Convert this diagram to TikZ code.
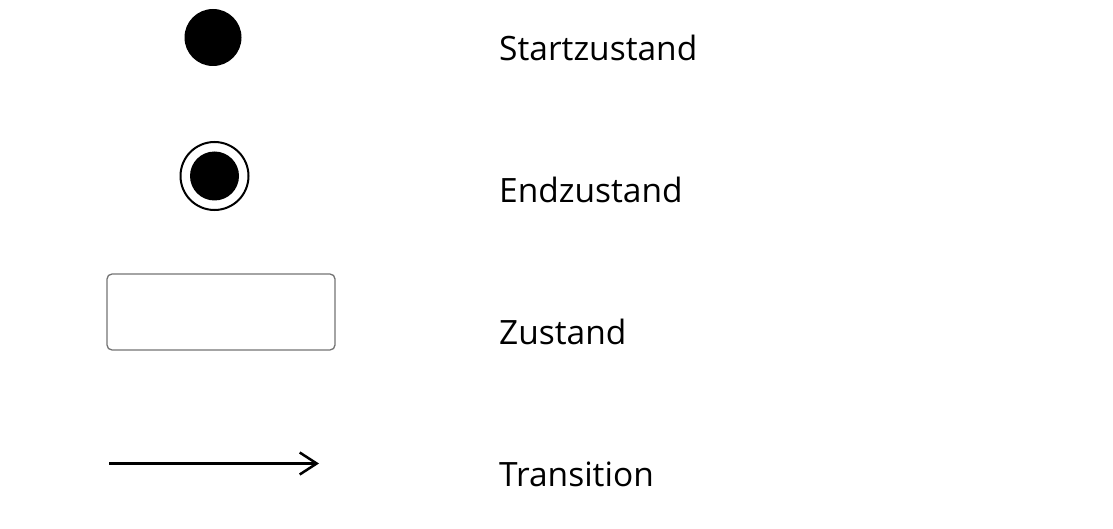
\documentclass[tikz,border=0pt]{standalone}
\usepackage{fontspec}
\setmainfont{Open Sans}
\usetikzlibrary{arrows.meta}
\begin{document}
\begin{tikzpicture}[x=1pt,y=-1pt,
  lbl/.style={anchor=base west,inner sep=0pt,font=\fontsize{33.5}{38}\selectfont},
  startdot/.style={circle,fill=black,minimum size=57pt,inner sep=0pt},
  enddot/.style={circle,draw=black,line width=2pt,fill=white,minimum size=68pt,inner sep=0pt},
  statebox/.style={draw=black!55,line width=1.3pt,rounded corners=5pt,minimum width=228pt,minimum height=76pt,inner sep=0pt},
  trans/.style={line width=2.5pt,-{Straight Barb[length=17pt,width=22pt,line width=2.5pt]}}]
\useasboundingbox (0,0) rectangle (1113,529);
\node[startdot] (start) at (213,37.5) {};
\node[enddot] (end) at (214.5,176) {};
\node[circle,fill=black,minimum size=49pt,inner sep=0pt] (endin) at (end) {};
\node[statebox] (zust) at (221,312) {};
\coordinate (ta) at (109,463.5);
\coordinate (tb) at (319,463.5);
\draw[trans] (ta) -- (tb);
\node[lbl] (l1) at (499,60.5) {Startzustand};
\node[lbl] (l2) at (499,202.5) {Endzustand};
\node[lbl] (l3) at (499,344) {Zustand};
\node[lbl] (l4) at (499,486) {Transition};
\end{tikzpicture}
\end{document}
